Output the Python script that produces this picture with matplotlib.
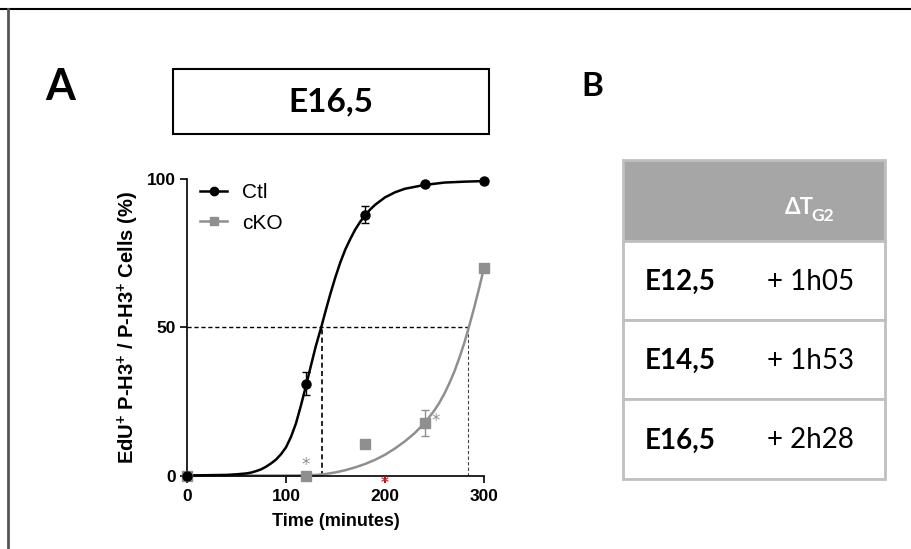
import matplotlib
import matplotlib.pyplot as plt
from matplotlib.patches import Rectangle

matplotlib.use('Agg')

plt.rcParams['mathtext.fontset'] = 'custom'
plt.rcParams['mathtext.rm'] = 'Liberation Sans:bold'
plt.rcParams['mathtext.bf'] = 'Liberation Sans:bold'

W, H = 911, 549

# measured points (mean +/- sem)
times = [0, 120, 180, 240, 300]
ctl_mean = [0, 31, 88, 98.2, 99.3]
ctl_err = [0, 3.8, 2.8, 0.6, 0.5]
cko_mean = [0, 0, 10.5, 17.6, 70]
cko_err = [0, 0.4, 1.0, 4.4, 1.0]

# fitted curves
ctl_fit_x = [0, 40, 50, 60, 65, 70, 75, 80, 85, 90, 95, 100, 105, 110, 115, 120, 125, 130,
             136, 140, 145, 150, 155, 160, 165, 170, 175, 180, 185, 190, 200, 210, 220,
             240, 260, 280, 300]
ctl_fit_y = [0, 0.2, 0.4, 0.7, 1.0, 1.5, 2.1, 3.0, 4.1, 5.4, 7.2, 9.5, 13, 17.5, 23.5, 30,
             36.8, 43.5, 50.5, 55.5, 61.5, 67, 72, 76.3, 79.8, 83, 85.6, 87.8, 89.7, 91.3,
             93.8, 95.5, 96.7, 98, 98.8, 99.1, 99.3]
cko_fit_x = [0, 100, 120, 130, 140, 150, 160, 170, 180, 190, 200, 210, 220, 230, 240,
             250, 255, 260, 265, 270, 275, 280, 285, 290, 295, 300]
cko_fit_y = [0, 0, 0.03, 0.18, 0.5, 1.05, 1.8, 2.75, 3.9, 5.3, 7.0, 9.1, 11.5, 14.3, 17.7,
             22.0, 24.6, 27.6, 31.1, 35.0, 39.6, 44.6, 50.4, 56.5, 63.1, 70.0]

# half-maximum times (minutes)
half_ctl = 136
half_cko = 284

# table of panel B
stages = ['E12,5', 'E14,5', 'E16,5']
delays = ['+ 1h05', '+ 1h53', '+ 2h28']

GRAY = '#8f8f8f'

fig = plt.figure(figsize=(W / 100, H / 100), dpi=100)

# overlay in pixel coordinates for the frame, title box and table
bg = fig.add_axes([0, 0, 1, 1])
bg.set_xlim(0, W)
bg.set_ylim(H, 0)
bg.axis('off')

bg.plot([0, W], [9, 9], color='black', lw=1.5)
bg.plot([8, 8], [9, H], color='#555555', lw=2)

bg.text(45, 100, 'A', fontsize=31, fontweight='bold', family='Lato', va='baseline')
bg.text(581, 96, 'B', fontsize=24, fontweight='bold', family='Lato', va='baseline')

bg.add_patch(Rectangle((173, 69), 316, 65, facecolor='white', edgecolor='black', lw=1.5))
bg.text(331, 102, 'E16,5', fontsize=24, fontweight='bold', family='Lato',
        ha='center', va='center')

# table
tx0, tx1 = 623, 885
row_edges = [160, 241, 320, 399, 479]
bg.add_patch(Rectangle((tx0, row_edges[0]), tx1 - tx0, row_edges[1] - row_edges[0],
                       facecolor='#a6a6a6', edgecolor='#bfbfbf', lw=2))
for i in range(3):
    y0, y1 = row_edges[i + 1], row_edges[i + 2]
    bg.add_patch(Rectangle((tx0, y0), tx1 - tx0, y1 - y0,
                           facecolor='white', edgecolor='#bfbfbf', lw=2))
    yc = (y0 + y1) / 2 + 1.5
    bg.text(645, yc, stages[i], fontsize=20, fontweight='bold', family='Lato',
            va='center', ha='left')
    bg.text(767, yc, delays[i], fontsize=20, family='Lato', va='center', ha='left')
bg.text(785, 207, 'ΔT', fontsize=16, color='white', fontweight='bold', family='Lato',
        va='center', ha='left')
bg.text(811, 216, 'G2', fontsize=12.5, color='white', fontweight='bold', family='Lato',
        va='center', ha='left')

# panel A plot
ax = fig.add_axes([187 / W, 1 - 475.5 / H, (484 - 187) / W, (475.5 - 179) / H])
ax.patch.set_alpha(0)

ax.plot([0, half_cko], [50, 50], color='black', lw=1, ls=(0, (3, 2)))
ax.plot([half_ctl, half_ctl], [0, 50], color='black', lw=1.2, ls=(0, (3, 2)))
ax.plot([half_cko, half_cko], [0, 50], color='#444444', lw=0.8, ls=(0, (3, 2)))

ax.plot(cko_fit_x, cko_fit_y, color=GRAY, lw=1.8, clip_on=False)
ax.plot(ctl_fit_x, ctl_fit_y, color='black', lw=1.8, clip_on=False)

ax.errorbar(times, cko_mean, yerr=cko_err, fmt='s', color=GRAY, ms=6.5, capsize=3,
            elinewidth=1, capthick=1, clip_on=False, zorder=4)
ax.errorbar(times, ctl_mean, yerr=ctl_err, fmt='o', color='black', ms=6.5, capsize=3,
            elinewidth=1, capthick=1, clip_on=False, zorder=5)

# legend proxies
ax.plot([], [], color='black', marker='o', ms=6, lw=1.8, label='Ctl')
ax.plot([], [], color=GRAY, marker='s', ms=6, lw=1.8, label='cKO')
leg = ax.legend(loc='upper left', bbox_to_anchor=(-0.005, 1.035), frameon=False,
                handlelength=1.3, handletextpad=0.7, labelspacing=0.55,
                borderaxespad=0.3, prop={'family': 'Liberation Sans', 'size': 15})

# significance marks
ax.text(120, 3.5, '*', color=GRAY, fontsize=12, ha='center', va='center', family='DejaVu Sans')
ax.text(251.5, 18.5, '*', color=GRAY, fontsize=12, ha='center', va='center', family='DejaVu Sans')
ax.text(200, -2.6, '*', color='#d42020', fontsize=11, fontweight='bold', ha='center',
        va='center', family='DejaVu Sans', clip_on=False)

ax.set_xlim(0, 300)
ax.set_ylim(0, 100)
ax.set_xticks([0, 100, 200, 300])
ax.set_yticks([0, 50, 100])
for s in ['top', 'right']:
    ax.spines[s].set_visible(False)
for s in ['left', 'bottom']:
    ax.spines[s].set_linewidth(1.2)
ax.tick_params(direction='out', length=5, width=1.2, labelsize=12.5, pad=3)
ax.tick_params(axis='x', pad=5)
for lab in ax.get_xticklabels() + ax.get_yticklabels():
    lab.set_fontweight('bold')
    lab.set_family('Liberation Sans')

ax.set_xlabel('Time (minutes)', fontsize=13, fontweight='bold', family='Liberation Sans',
              labelpad=6)
ax.set_ylabel(r'EdU$^{+}$ P-H3$^{+}$ / P-H3$^{+}$ Cells (%)', fontsize=14.5,
              fontweight='bold', family='Liberation Sans', labelpad=4)

fig.savefig('out.png', dpi=100)
